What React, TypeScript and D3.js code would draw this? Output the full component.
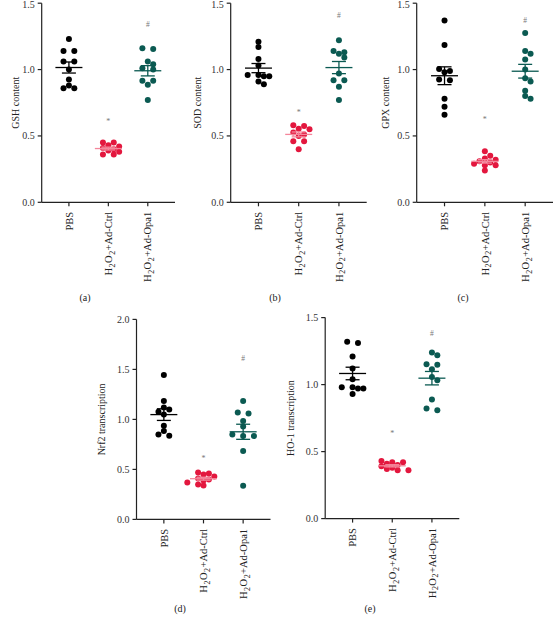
import React from "react";
import * as d3 from "d3";

const categories = ["PBS", "H2O2+Ad-Ctrl", "H2O2+Ad-Opa1"];

const gshPBS = [1.23, 1.14, 1.14, 1.06, 1.06, 1.0, 0.925, 0.88, 0.86, 0.86];
const gshCtrl = [0.45, 0.45, 0.43, 0.42, 0.41, 0.4, 0.39, 0.38, 0.36, 0.36];
const gshOpa1 = [1.155, 1.16, 1.04, 1.06, 1.0, 1.01, 0.915, 0.915, 0.885, 0.77];

const sodPBS = [1.21, 1.17, 1.08, 1.03, 0.96, 0.95, 0.95, 0.96, 0.91, 0.89];
const sodCtrl = [0.58, 0.575, 0.555, 0.55, 0.525, 0.51, 0.5, 0.46, 0.46, 0.4];
const sodOpa1 = [1.22, 1.12, 1.13, 1.14, 1.09, 0.97, 0.92, 0.92, 0.87, 0.77];

const gpxPBS = [1.37, 1.185, 1.005, 0.98, 0.99, 0.925, 0.92, 0.78, 0.72, 0.66];
const gpxCtrl = [0.385, 0.35, 0.33, 0.32, 0.31, 0.3, 0.29, 0.28, 0.28, 0.24];
const gpxOpa1 = [1.275, 1.14, 1.12, 1.075, 1.0, 0.935, 0.91, 0.84, 0.78, 0.8];

const nrf2PBS = [1.443, 1.183, 1.12, 1.1, 1.077, 1.05, 0.937, 0.883, 0.85, 0.837];
const nrf2Ctrl = [0.47, 0.46, 0.45, 0.43, 0.41, 0.4, 0.39, 0.37, 0.35, 0.34];
const nrf2Opa1 = [1.183, 1.06, 1.07, 0.983, 0.93, 0.833, 0.85, 0.833, 0.683, 0.337];

const ho1PBS = [1.32, 1.31, 1.21, 1.12, 1.04, 0.98, 0.97, 0.97, 0.98, 0.93];
const ho1Ctrl = [0.43, 0.42, 0.42, 0.41, 0.4, 0.39, 0.38, 0.37, 0.36, 0.36];
const ho1Opa1 = [1.239, 1.219, 1.152, 1.114, 1.149, 1.057, 1.032, 0.888, 0.808, 0.821];

// marker heights for "*" (vs PBS) and "#" (vs Ctrl)
const starLevels = [0.62, 0.69, 0.64, 0.627, 0.647];
const hashLevels = [1.34, 1.41, 1.37, 1.61, 1.38];

const yTitles = ["GSH content", "SOD content", "GPX content", "Nrf2 transcription", "HO-1 transcription"];
const panelTags = ["(a)", "(b)", "(c)", "(d)", "(e)"];
const yMaxes = [1.5, 1.5, 1.5, 2.0, 1.5];

const COLORS = ["#000000", "#e3173e", "#0b5a52"];
const LINE_COLORS = ["#000000", "#f4869b", "#0b5a52"];
const FONT = "'Liberation Serif', 'Times New Roman', serif";

type Layout = { x0: number; x1: number; yTop: number; yBot: number; titleX: number; tagX: number; tagY: number };
const layouts: Layout[] = [
  { x0: 41.7, x1: 175, yTop: 3.2, yBot: 202.3, titleX: 15, tagX: 85, tagY: 297 },
  { x0: 230.7, x1: 366.7, yTop: 3.2, yBot: 202.3, titleX: 197, tagX: 275, tagY: 297 },
  { x0: 416.7, x1: 553, yTop: 3.2, yBot: 202.3, titleX: 385, tagX: 463, tagY: 297 },
  { x0: 136.5, x1: 270.5, yTop: 319.4, yBot: 519.4, titleX: 101, tagX: 180, tagY: 608 },
  { x0: 325.2, x1: 459.3, yTop: 317.6, yBot: 518.6, titleX: 290, tagX: 370, tagY: 608 },
];

const groups = [
  [gshPBS, gshCtrl, gshOpa1],
  [sodPBS, sodCtrl, sodOpa1],
  [gpxPBS, gpxCtrl, gpxOpa1],
  [nrf2PBS, nrf2Ctrl, nrf2Opa1],
  [ho1PBS, ho1Ctrl, ho1Opa1],
];

const R = 3;
const SLOT = 5.4;
const MIN_D = 4.8;

// GraphPad-like scatter: rows of near-equal values centred on the group, shifted to limit overlap
function swarm(values: number[], y: (v: number) => number): number[] {
  const pts = values.map((v, i) => ({ i, py: y(v) })).sort((a, b) => a.py - b.py);
  const rows: { i: number; py: number }[][] = [];
  for (const p of pts) {
    const last = rows[rows.length - 1];
    if (last && p.py - last[0].py < 2 && last.length < 3) last.push(p);
    else rows.push([p]);
  }
  const placed: { x: number; y: number }[] = [];
  const out = new Array(values.length).fill(0);
  for (const row of rows) {
    const n = row.length;
    const base = row.map((_, k) => 2 * k - (n - 1));
    const shifts = [0, 1, -1, 2, -2];
    let chosen = 0;
    let bestScore = -Infinity;
    for (const s of shifts) {
      let minD = Infinity;
      row.forEach((p, k) => {
        placed.forEach((q) => {
          minD = Math.min(minD, Math.hypot((base[k] + s) * SLOT - q.x, p.py - q.y));
        });
      });
      if (minD >= MIN_D) { chosen = s; bestScore = Infinity; break; }
      if (minD > bestScore + 0.5) { bestScore = minD; chosen = s; }
    }
    row.forEach((p, k) => {
      const x = (base[k] + chosen) * SLOT;
      placed.push({ x, y: p.py });
      out[p.i] = x;
    });
  }
  return out;
}

function CatLabel({ label, x, y }: { label: string; x: number; y: number }) {
  const parts = label.startsWith("H2O2") ? ["H", "2", "O", "2", label.slice(4)] : null;
  return (
    <text
      transform={`translate(${x},${y}) rotate(-90)`}
      textAnchor="end"
      dy="0.35em"
      fontSize={10.5}
      fontFamily={FONT}
      fill="#222"
    >
      {parts ? (
        <>
          <tspan>{parts[0]}</tspan>
          <tspan fontSize={8} dx={0.6} dy={2.8}>{parts[1]}</tspan>
          <tspan dx={0.4} dy={-2.8}>{parts[2]}</tspan>
          <tspan fontSize={8} dx={0.6} dy={2.8}>{parts[3]}</tspan>
          <tspan dx={0.4} dy={-2.8}>{parts[4]}</tspan>
        </>
      ) : (
        label
      )}
    </text>
  );
}

function Panel({ idx }: { idx: number }) {
  const L = layouts[idx];
  const yMax = yMaxes[idx];
  const y = d3.scaleLinear().domain([0, yMax]).range([L.yBot, L.yTop]);
  const x = d3.scalePoint<string>().domain(categories).range([L.x0, L.x1]).padding(0.69);
  const ticks = d3.range(0, yMax + 0.001, 0.5);
  const data = groups[idx];
  return (
    <g>
      <line x1={L.x0} x2={L.x0} y1={L.yTop} y2={L.yBot} stroke="#222" strokeWidth={1.2} />
      <line x1={L.x0} x2={L.x1} y1={L.yBot} y2={L.yBot} stroke="#222" strokeWidth={1.2} />
      {ticks.map((t) => (
        <g key={t}>
          <line x1={L.x0 - 4} x2={L.x0} y1={y(t)} y2={y(t)} stroke="#222" strokeWidth={1.2} />
          <text x={L.x0 - 7} y={Math.max(y(t), 4.6)} dy="0.33em" textAnchor="end" fontSize={10} fontFamily={FONT} fill="#333">
            {d3.format(".1f")(t)}
          </text>
        </g>
      ))}
      {categories.map((c) => (
        <g key={c}>
          <line x1={x(c)!} x2={x(c)!} y1={L.yBot} y2={L.yBot + 4} stroke="#222" strokeWidth={1.2} />
          <CatLabel label={c} x={x(c)!} y={L.yBot + 9.5} />
        </g>
      ))}
      <text
        transform={`translate(${L.titleX},${(L.yTop + L.yBot) / 2}) rotate(-90)`}
        textAnchor="middle"
        dy="0.35em"
        fontSize={10}
        fontFamily={FONT}
        fill="#222"
      >
        {yTitles[idx]}
      </text>
      <text x={L.tagX} y={L.tagY} textAnchor="middle" dy="0.35em" fontSize={10} fontFamily={FONT} fill="#222">
        {panelTags[idx]}
      </text>
      {data.map((vals, g) => {
        const cx = x(categories[g])!;
        const offs = swarm(vals, y);
        const mean = d3.mean(vals)!;
        const sem = d3.deviation(vals)! / Math.sqrt(vals.length);
        return (
          <g key={g}>
            {vals.map((v, i) => (
              <circle key={i} cx={cx + offs[i]} cy={y(v)} r={R} fill={COLORS[g]} />
            ))}
            <line x1={cx - 13.5} x2={cx + 13.5} y1={y(mean)} y2={y(mean)} stroke={LINE_COLORS[g]} strokeWidth={1.3} />
            <line x1={cx} x2={cx} y1={y(mean - sem)} y2={y(mean + sem)} stroke={LINE_COLORS[g]} strokeWidth={1.3} />
            <line x1={cx - 7} x2={cx + 7} y1={y(mean - sem)} y2={y(mean - sem)} stroke={LINE_COLORS[g]} strokeWidth={1.3} />
            <line x1={cx - 7} x2={cx + 7} y1={y(mean + sem)} y2={y(mean + sem)} stroke={LINE_COLORS[g]} strokeWidth={1.3} />
          </g>
        );
      })}
      <text x={x(categories[1])!} y={y(starLevels[idx])} dy="0.55em" textAnchor="middle" fontSize={8} fontFamily={FONT} fill="#777">
        *
      </text>
      <text x={x(categories[2])!} y={y(hashLevels[idx])} dy="0.35em" textAnchor="middle" fontSize={7.5} fontFamily={FONT} fill="#777">
        #
      </text>
    </g>
  );
}

export default function App() {
  return (
    <svg width={553} height={620} style={{ position: "absolute", left: 0, top: 0, background: "#fff" }}>
      <rect width={553} height={620} fill="#fff" />
      {layouts.map((_, i) => (
        <Panel key={i} idx={i} />
      ))}
    </svg>
  );
}
